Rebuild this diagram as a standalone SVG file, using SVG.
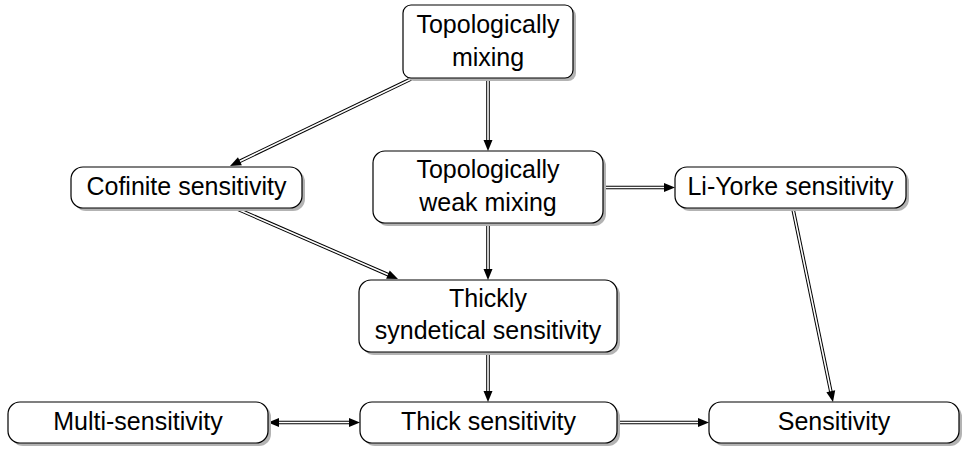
<svg xmlns="http://www.w3.org/2000/svg" xmlns:xlink="http://www.w3.org/1999/xlink" width="967" height="452" viewBox="0 0 967 452">
<style>
.box{fill:#fff;stroke:#000;stroke-width:1.2}
.sh{fill:#b3b3b3}
text{font-family:"Liberation Sans",Arial,sans-serif;font-size:25px;fill:#000;text-anchor:middle}
.lo{stroke:#000;stroke-width:3.6;fill:none}
.li{stroke:#fff;stroke-width:1.6;fill:none}
</style>
<defs>
<polygon id="ah" points="0,0 -11,-4.5 -11,4.5" fill="#000"/>
</defs>
<rect width="967" height="452" fill="#fff"/>
<g id="connectors">
<g transform="translate(230,166) rotate(154.33)"><line class="lo" x1="-201" y1="0" x2="-10" y2="0"/><line class="li" x1="-201" y1="0" x2="-10" y2="0"/><use xlink:href="#ah"/></g>
<g transform="translate(488,151) rotate(90)"><line class="lo" x1="-73" y1="0" x2="-10" y2="0"/><line class="li" x1="-73" y1="0" x2="-10" y2="0"/><use xlink:href="#ah"/></g>
<g transform="translate(398,279) rotate(23.54)"><line class="lo" x1="-178" y1="0" x2="-10" y2="0"/><line class="li" x1="-178" y1="0" x2="-10" y2="0"/><use xlink:href="#ah"/></g>
<g transform="translate(488,280) rotate(90)"><line class="lo" x1="-57" y1="0" x2="-10" y2="0"/><line class="li" x1="-57" y1="0" x2="-10" y2="0"/><use xlink:href="#ah"/></g>
<g transform="translate(675,187.5)"><line class="lo" x1="-72" y1="0" x2="-10" y2="0"/><line class="li" x1="-72" y1="0" x2="-10" y2="0"/><use xlink:href="#ah"/></g>
<g transform="translate(833,402) rotate(78.29)"><line class="lo" x1="-197" y1="0" x2="-10" y2="0"/><line class="li" x1="-197" y1="0" x2="-10" y2="0"/><use xlink:href="#ah"/></g>
<g transform="translate(488,402) rotate(90)"><line class="lo" x1="-50" y1="0" x2="-10" y2="0"/><line class="li" x1="-50" y1="0" x2="-10" y2="0"/><use xlink:href="#ah"/></g>
<g transform="translate(360,422.5)"><line class="lo" x1="-82" y1="0" x2="-10" y2="0"/><line class="li" x1="-82" y1="0" x2="-10" y2="0"/><use xlink:href="#ah"/><use xlink:href="#ah" transform="translate(-92,0) rotate(180)"/></g>
<g transform="translate(709,422.5)"><line class="lo" x1="-92" y1="0" x2="-10" y2="0"/><line class="li" x1="-92" y1="0" x2="-10" y2="0"/><use xlink:href="#ah"/></g>
</g>
<g id="n_top"><rect class="sh" x="406" y="8" width="170" height="73" rx="8"/><rect class="box" x="403" y="5" width="170" height="73" rx="8"/><text x="488" y="33">Topologically</text><text x="488" y="66">mixing</text></g>
<g id="n_cof"><rect class="sh" x="74" y="170" width="231" height="41" rx="12"/><rect class="box" x="71" y="167" width="231" height="41" rx="12"/><text x="186.5" y="195">Cofinite sensitivity</text></g>
<g id="n_weak"><rect class="sh" x="376" y="154" width="230" height="72" rx="12"/><rect class="box" x="373" y="151" width="230" height="72" rx="12"/><text x="488" y="178">Topologically</text><text x="488" y="211">weak mixing</text></g>
<g id="n_ly"><rect class="sh" x="678" y="170" width="231" height="41" rx="12"/><rect class="box" x="675" y="167" width="231" height="41" rx="12"/><text x="790.5" y="195">Li-Yorke sensitivity</text></g>
<g id="n_thickly"><rect class="sh" x="362" y="283" width="258" height="72" rx="12"/><rect class="box" x="359" y="280" width="258" height="72" rx="12"/><text x="488" y="307">Thickly</text><text x="488" y="339">syndetical sensitivity</text></g>
<g id="n_multi"><rect class="sh" x="11" y="405" width="260" height="41" rx="12"/><rect class="box" x="8" y="402" width="260" height="41" rx="12"/><text x="138" y="430">Multi-sensitivity</text></g>
<g id="n_thick"><rect class="sh" x="363" y="405" width="257" height="41" rx="12"/><rect class="box" x="360" y="402" width="257" height="41" rx="12"/><text x="488.5" y="430">Thick sensitivity</text></g>
<g id="n_sens"><rect class="sh" x="712" y="405" width="250" height="41" rx="12"/><rect class="box" x="709" y="402" width="250" height="41" rx="12"/><text x="834" y="430">Sensitivity</text></g>
</svg>
